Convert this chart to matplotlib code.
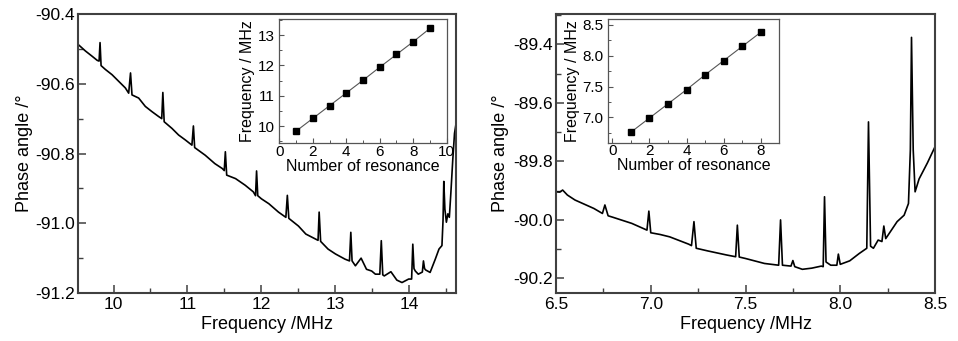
import matplotlib
matplotlib.use("Agg")
import matplotlib.pyplot as plt
from matplotlib.ticker import MultipleLocator, FormatStrFormatter

plt.rcParams['font.family'] = ['Liberation Sans', 'DejaVu Sans']

# ---------------- data ----------------
left_freq = [9.52, 9.62, 9.71, 9.78, 9.805, 9.818, 9.832, 9.89, 9.98, 10.07,
             10.16, 10.205, 10.23, 10.25, 10.34, 10.43, 10.52, 10.61, 10.652, 10.667,
             10.685, 10.79, 10.88, 10.97, 11.06, 11.08, 11.097, 11.24, 11.37, 11.47,
             11.497, 11.512, 11.53, 11.65, 11.78, 11.89, 11.92, 11.934, 11.95, 12.0,
             12.1, 12.23, 12.33, 12.35, 12.37, 12.5, 12.6, 12.765, 12.78, 12.8,
             12.9, 13.0, 13.13, 13.19, 13.208, 13.225, 13.27, 13.347, 13.42, 13.49,
             13.54, 13.6, 13.62, 13.64, 13.66, 13.75, 13.83, 13.9, 13.99, 14.03,
             14.046, 14.062, 14.08, 14.12, 14.175, 14.19, 14.205, 14.22, 14.28, 14.35,
             14.40, 14.44, 14.455, 14.465, 14.48, 14.50, 14.52, 14.54, 14.56, 14.586,
             14.61, 14.63]
left_phase = [-90.487, -90.506, -90.521, -90.533, -90.535, -90.482, -90.548, -90.559, -90.574, -90.593,
              -90.612, -90.627, -90.569, -90.632, -90.641, -90.665, -90.680, -90.694, -90.700, -90.625,
              -90.709, -90.728, -90.747, -90.761, -90.776, -90.721, -90.783, -90.805, -90.829, -90.843,
              -90.849, -90.795, -90.862, -90.872, -90.891, -90.910, -90.921, -90.850, -90.921, -90.930,
              -90.944, -90.968, -90.983, -90.920, -90.986, -91.008, -91.031, -91.049, -90.968, -91.052,
              -91.074, -91.088, -91.103, -91.108, -91.026, -91.108, -91.122, -91.100, -91.132, -91.137,
              -91.146, -91.146, -91.050, -91.148, -91.151, -91.139, -91.163, -91.170, -91.160, -91.160,
              -91.060, -91.130, -91.137, -91.146, -91.140, -91.108, -91.130, -91.134, -91.141, -91.103,
              -91.074, -91.064, -90.990, -90.880, -90.960, -90.997, -90.973, -90.983, -90.915, -90.819,
              -90.742, -90.715]

right_freq = [6.5, 6.52, 6.535, 6.56, 6.6, 6.7, 6.745, 6.758, 6.775, 6.8,
              6.9, 6.98, 6.99, 7.0, 7.05, 7.1, 7.2, 7.215, 7.228, 7.24,
              7.3, 7.4, 7.448, 7.457, 7.467, 7.5, 7.6, 7.675, 7.685, 7.695,
              7.74, 7.75, 7.76, 7.8, 7.85, 7.9, 7.91, 7.917, 7.925, 7.95,
              7.982, 7.99, 8.0, 8.05, 8.1, 8.14, 8.149, 8.16, 8.175, 8.2,
              8.22, 8.23, 8.24, 8.3, 8.337, 8.36, 8.37, 8.376, 8.385, 8.395,
              8.416, 8.44, 8.46, 8.5]
right_phase = [-89.904, -89.905, -89.898, -89.915, -89.932, -89.961, -89.978, -89.949, -89.986, -89.991,
               -90.012, -90.035, -89.970, -90.044, -90.050, -90.058, -90.083, -90.088, -90.006, -90.097,
               -90.106, -90.120, -90.126, -90.018, -90.127, -90.132, -90.149, -90.155, -90.000, -90.155,
               -90.158, -90.139, -90.160, -90.169, -90.165, -90.158, -90.160, -89.921, -90.144, -90.155,
               -90.155, -90.117, -90.152, -90.140, -90.115, -90.097, -89.665, -90.090, -90.097, -90.069,
               -90.074, -90.021, -90.064, -90.006, -89.984, -89.944, -89.760, -89.376, -89.760, -89.904,
               -89.860, -89.830, -89.805, -89.750]

left_inset_n = [1, 2, 3, 4, 5, 6, 7, 8, 9]
left_inset_f = [9.83, 10.25, 10.67, 11.09, 11.51, 11.94, 12.36, 12.78, 13.22]

right_inset_n = [1, 2, 3, 4, 5, 6, 7, 8]
right_inset_f = [6.76, 6.99, 7.22, 7.45, 7.69, 7.92, 8.15, 8.38]

# ---------------- figure ----------------
W, H = 958, 341
fig = plt.figure(figsize=(W / 100, H / 100), dpi=100)

def box(x0, y0, x1, y1):
    return [x0 / W, 1 - y1 / H, (x1 - x0) / W, (y1 - y0) / H]

frame_col = '#404040'

def style_main(ax):
    for s in ax.spines.values():
        s.set_color(frame_col)
        s.set_linewidth(1.5)
    ax.tick_params(which='both', direction='in', top=False, right=False,
                   labelsize=12.5, pad=3, color=frame_col)
    ax.tick_params(axis='y', which='both', pad=2.5)
    ax.tick_params(which='major', length=5.5, width=1.1)
    ax.tick_params(which='minor', length=3.5, width=1.0)

def style_inset(ax):
    for s in ax.spines.values():
        s.set_color('#555555')
        s.set_linewidth(0.9)
    ax.tick_params(which='both', direction='in', top=False, right=False,
                   labelsize=11, color='#555555')
    ax.tick_params(axis='x', which='both', pad=1)
    ax.tick_params(axis='y', which='both', pad=3)
    ax.tick_params(which='major', length=3.5, width=0.8)
    ax.tick_params(which='minor', length=2, width=0.7)

# Left main
ax1 = fig.add_axes(box(78, 14, 456, 293))
ax1.plot(left_freq, left_phase, color='black', lw=1.2)
ax1.set_xlim(9.52, 14.63)
ax1.set_ylim(-91.2, -90.4)
ax1.xaxis.set_major_locator(MultipleLocator(1))
ax1.xaxis.set_minor_locator(MultipleLocator(0.5))
ax1.yaxis.set_major_locator(MultipleLocator(0.2))
ax1.yaxis.set_minor_locator(MultipleLocator(0.1))
ax1.yaxis.set_major_formatter(FormatStrFormatter('%.1f'))
ax1.set_xlabel('Frequency /MHz', fontsize=13, labelpad=3)
ax1.set_ylabel('Phase angle /°', fontsize=13, labelpad=1)
style_main(ax1)

# Right main
ax2 = fig.add_axes(box(556, 14, 935, 293))
ax2.plot(right_freq, right_phase, color='black', lw=1.2)
ax2.set_xlim(6.5, 8.5)
ax2.set_ylim(-90.25, -89.296)
ax2.xaxis.set_major_locator(MultipleLocator(0.5))
ax2.xaxis.set_minor_locator(MultipleLocator(0.25))
ax2.yaxis.set_major_locator(MultipleLocator(0.2))
ax2.yaxis.set_minor_locator(MultipleLocator(0.1))
ax2.xaxis.set_major_formatter(FormatStrFormatter('%.1f'))
ax2.yaxis.set_major_formatter(FormatStrFormatter('%.1f'))
ax2.set_xlabel('Frequency /MHz', fontsize=13, labelpad=3)
ax2.set_ylabel('Phase angle /°', fontsize=13, labelpad=3)
style_main(ax2)

# Left inset
ia1 = fig.add_axes(box(279.3, 19.3, 446.7, 143.3))
ia1.plot(left_inset_n, left_inset_f, color='#555555', lw=0.8,
         marker='s', markersize=4, markerfacecolor='black', markeredgecolor='black')
ia1.set_xlim(0, 10)
ia1.set_ylim(9.43, 13.52)
ia1.xaxis.set_major_locator(MultipleLocator(2))
ia1.xaxis.set_minor_locator(MultipleLocator(1))
ia1.yaxis.set_major_locator(MultipleLocator(1))
ia1.yaxis.set_minor_locator(MultipleLocator(0.5))
ia1.set_xlabel('Number of resonance', fontsize=11.5, labelpad=0)
ia1.set_ylabel('Frequency / MHz', fontsize=11.5, labelpad=2)
style_inset(ia1)

# Right inset
ia2 = fig.add_axes(box(607.7, 19.3, 779.3, 142.7))
ia2.plot(right_inset_n, right_inset_f, color='#555555', lw=0.8,
         marker='s', markersize=4, markerfacecolor='black', markeredgecolor='black')
ia2.set_xlim(-0.25, 9)
ia2.set_ylim(6.59, 8.59)
ia2.xaxis.set_major_locator(MultipleLocator(2))
ia2.xaxis.set_minor_locator(MultipleLocator(1))
ia2.yaxis.set_major_locator(MultipleLocator(0.5))
ia2.yaxis.set_minor_locator(MultipleLocator(0.25))
ia2.yaxis.set_major_formatter(FormatStrFormatter('%.1f'))
ia2.set_xlabel('Number of resonance', fontsize=11.5, labelpad=0)
ia2.set_ylabel('Frequency / MHz', fontsize=11.5, labelpad=2)
style_inset(ia2)

fig.savefig('out.png', dpi=100)
